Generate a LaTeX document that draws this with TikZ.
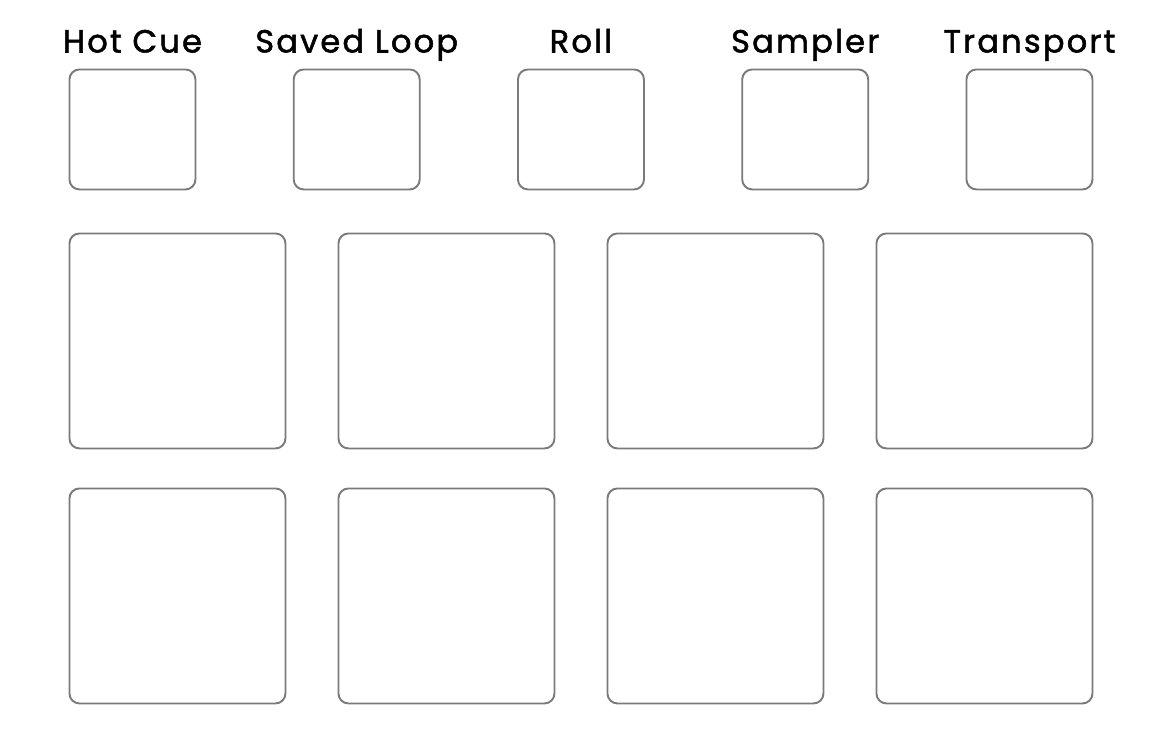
\documentclass[tikz,border=0pt]{standalone}
\usepackage{fontspec}
\setmainfont{Poppins}[FakeBold=1.6,LetterSpace=7]
\begin{document}
\begin{tikzpicture}[x=1pt,y=-1pt,
  pad/.style={draw=padgray,line width=1.9pt,rounded corners=10pt,fill=white,inner sep=0pt,anchor=north west},
  smallpad/.style={pad,minimum width=126pt,minimum height=120pt},
  bigpad/.style={pad,minimum width=216pt,minimum height=215pt},
  lbl/.style={anchor=base,font=\fontsize{32}{33}\selectfont,text=black,inner sep=0pt}]
\definecolor{padgray}{HTML}{7A7A7A}
\useasboundingbox (0,0) rectangle (1174,742);
\fill[white] (0,0) rectangle (1174,742);
% small mode pads
\node[smallpad] (s1) at (68.5,68.5) {};
\node[smallpad] (s2) at (292.75,68.5) {};
\node[smallpad] (s3) at (517,68.5) {};
\node[smallpad] (s4) at (741.25,68.5) {};
\node[smallpad] (s5) at (965.5,68.5) {};
% labels
\node[lbl] (l1) at (s1.center |- 0,52.5) {Hot Cue};
\node[lbl] (l2) at (s2.center |- 0,52.5) {Saved Loop};
\node[lbl] (l3) at (s3.center |- 0,52.5) {Roll};
\node[lbl] (l4) at (s4.center |- 0,52.5) {Sampler};
\node[lbl] (l5) at (s5.center |- 0,52.5) {Transport};
% big pads row 1
\node[bigpad] (p1) at (68.5,232.5) {};
\node[bigpad] (p2) at (337.5,232.5) {};
\node[bigpad] (p3) at (606.5,232.5) {};
\node[bigpad] (p4) at (875.5,232.5) {};
% big pads row 2
\node[bigpad] (p5) at (68.5,487.5) {};
\node[bigpad] (p6) at (337.5,487.5) {};
\node[bigpad] (p7) at (606.5,487.5) {};
\node[bigpad] (p8) at (875.5,487.5) {};
\end{tikzpicture}
\end{document}
